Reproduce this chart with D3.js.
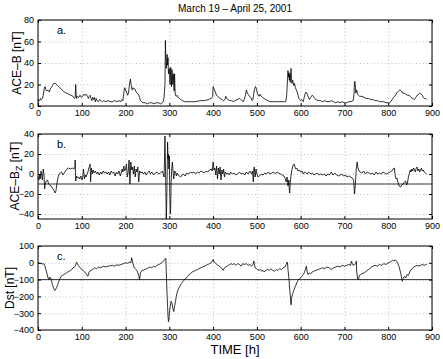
<!DOCTYPE html>
<html>
<head>
<meta charset="utf-8">
<script src="https://cdn.jsdelivr.net/npm/d3@7"></script>
<style>
  body { margin: 0; background: #fff; }
  svg text { font-family: "Liberation Sans", Arial, sans-serif; fill: #000; }
</style>
</head>
<body>
<script>
// time axis ticks (hours)
var timeTicks = [0, 100, 200, 300, 400, 500, 600, 700, 800, 900]

// panel a: ACE magnetic field magnitude [nT]
var aTime = [0,2,4,6,8,10,12,14,16,18,20,22,24,26,28,30,33,36,40,45,50,55,60,65,70,75,80,83,85,86,87,88,90,93,96,99,102,105,108,110,113,115,117,119,121,123,125,127,129,131,133,135,138,141,144,147,150,155,160,165,170,175,180,185,189,192,194,196,198,200,203,205,207,209,211,213,215,217,219,221,223,226,229,232,234,237,240,245,250,255,260,265,270,275,280,284,286,288,290,291,292,293,295,296,297,298,300,301,302,303,304,305,306,307,308,309,310,311,312,313,314,316,318,320,323,326,330,335,340,350,360,370,380,390,396,399,400,402,404,406,408,410,413,416,420,424,427,429,431,434,438,442,446,450,455,460,463,466,469,471,474,476,478,480,483,486,489,491,493,495,497,499,501,503,505,507,510,513,516,520,525,530,540,550,560,566,568,570,571,572,573,574,575,576,577,578,579,580,582,584,586,588,590,592,594,596,598,600,602,604,606,608,610,612,614,616,618,620,623,626,629,632,635,640,645,650,655,660,665,670,675,680,685,690,695,700,705,710,715,720,722,723,724,726,728,730,732,735,740,745,750,755,760,765,770,775,780,785,790,795,800,803,806,809,812,815,818,821,824,827,830,833,836,840,844,848,852,856,860,863,866,869,872,875,878,880,883,886,888]
var aValue = [4,6,5,7,6,7,10,16,18,15,14,15,14,13,16,17,19,21,21,19,17,15,13,12,11,10,9,7,8,20,12,7,9,8,10,8,9,11,10,11,9,7,9,10,7,5,8,6,8,4,7,5,4,6,5,4,5,4,5,4,4,5,4,5,4,6,5,12,17,15,12,10,13,20,25,19,15,17,16,16,14,12,11,8,5,4,3,3,2,3,3,2,3,3,2,3,4,8,20,61,45,35,48,38,45,30,35,22,20,36,30,18,34,28,20,30,22,14,30,14,10,9,10,8,7,6,5,4,4,4,4,5,5,6,7,9,18,16,14,12,10,9,8,7,6,5,6,9,7,6,5,5,4,5,6,7,6,5,4,6,10,15,12,11,9,8,5,6,12,16,18,16,12,10,9,11,9,8,7,6,5,4,4,4,4,4,10,25,33,27,31,24,30,22,28,35,26,21,24,19,21,17,15,13,10,7,6,5,6,5,4,8,11,13,12,10,8,6,8,10,9,7,6,5,5,4,5,4,4,5,4,3,4,3,4,3,3,4,4,5,12,22,23,12,15,11,10,9,9,8,7,7,6,6,5,5,4,4,4,3,3,3,4,6,8,9,11,13,14,15,14,12,12,11,10,10,8,7,6,8,10,11,12,11,10,8,7,7,6]

// panel b: ACE Bz [nT]
var bTime = [0,2,4,5,7,9,10,12,14,15,17,19,22,24,27,30,33,36,39,41,43,46,48,51,54,57,60,63,66,70,74,78,82,84,85,86,88,90,93,95,98,100,102,104,106,108,110,112,114,116,118,119,120,122,124,126,128,131,134,137,140,143,146,149,152,155,158,161,164,167,170,173,176,179,182,185,188,190,192,194,196,198,200,202,204,206,208,210,212,214,216,218,220,222,224,226,228,230,232,235,238,241,244,247,250,254,257,260,264,268,272,276,280,284,286,288,289,290,291,292,293,294,295,296,297,298,299,300,301,302,303,304,305,306,307,308,309,310,312,314,316,318,320,323,326,329,332,336,340,344,348,352,356,360,364,368,372,376,380,384,388,392,396,398,400,402,404,406,408,410,412,414,416,418,420,422,424,426,428,431,434,437,440,444,448,452,456,460,464,468,472,476,480,484,488,490,492,493,494,496,498,500,503,506,510,514,518,522,526,530,534,538,542,546,550,554,558,562,565,567,569,571,573,574,575,576,577,579,581,583,585,587,589,591,594,597,600,603,606,609,612,615,618,621,624,627,630,634,638,642,646,650,654,658,662,666,670,674,678,682,686,690,694,698,702,706,710,714,718,721,723,725,727,729,731,733,736,740,744,748,752,756,760,764,768,772,776,780,784,788,792,796,800,804,808,811,814,816,818,820,822,825,828,831,834,837,840,842,844,846,848,850,852,854,856,858,860,862,864,866,868,870,872,874,876,878,880,882,885,888]
var bValue = [-3,-6,-1,-5,3,-3,-6,5,-2,-15,-9,-7,-6,-10,-11,-12,-14,-16,-19,-17,-10,-3,0,1,2,-1,1,3,5,6,5,6,5,6,14,-7,-2,-4,-3,-5,-2,-6,-4,5,-5,-1,-3,0,2,6,8,10,-8,6,0,4,1,3,0,2,-1,2,0,3,1,2,0,2,-1,3,1,2,-2,2,0,3,-2,1,5,2,8,3,5,10,-3,2,14,-10,12,4,7,0,8,-3,5,2,7,-8,3,1,2,0,2,-1,1,3,0,2,-1,1,2,0,1,3,0,-3,15,38,10,-15,-45,-30,0,32,15,20,5,18,-20,-40,-35,-10,2,8,12,6,0,-5,3,2,-2,1,-1,-2,-3,-1,0,-2,1,0,2,1,2,0,2,1,3,2,1,3,2,4,5,3,12,4,6,-1,8,-5,6,0,7,-6,4,0,5,-3,2,0,1,-1,2,0,1,-1,0,2,0,1,-1,2,0,3,0,3,-8,5,7,-3,5,0,-3,-2,0,-1,1,0,2,0,1,2,0,2,1,0,-1,-2,-5,-8,-3,-12,-6,-16,-19,-10,-5,2,6,9,10,7,5,6,3,4,2,3,0,2,1,0,2,1,0,1,-1,0,1,-1,0,-1,0,-2,0,-1,2,-1,1,-1,-2,-1,0,-2,-1,-3,-2,-3,-4,-6,-20,-10,5,12,6,3,2,1,3,0,2,1,0,1,-1,2,0,1,0,2,1,0,1,2,3,5,6,-2,-5,-4,-8,-12,-13,-11,-10,-8,-7,-11,-9,-3,0,4,2,5,3,6,4,2,6,7,3,5,2,4,6,3,4,2,1,0]

// panel c: Dst index [nT]
var cTime = [0,3,6,9,11,13,15,17,19,21,23,25,27,29,31,33,35,37,39,41,43,45,47,49,51,53,56,59,62,65,68,71,74,77,80,83,85,87,88,90,92,95,98,101,104,107,110,112,114,116,118,121,124,127,130,134,138,142,146,150,155,160,165,170,175,180,185,190,195,200,205,210,212,214,216,218,220,222,224,226,228,230,232,234,236,240,244,248,252,256,260,264,268,272,276,280,283,286,289,291,292,293,294,295,296,297,298,299,300,302,304,306,308,310,312,314,316,318,321,324,327,330,333,336,339,342,345,348,352,356,360,364,368,372,376,380,384,388,392,396,400,402,405,408,411,414,417,420,423,426,429,432,435,438,441,444,448,452,456,460,464,468,472,476,480,484,488,491,493,494,496,499,502,505,508,511,514,517,520,524,528,532,536,540,544,548,552,556,560,564,567,569,570,571,573,575,577,578,579,581,583,585,588,591,594,597,600,603,606,609,612,613,615,617,620,623,626,630,635,640,645,650,655,660,665,670,675,680,685,690,695,700,705,710,714,716,718,720,723,726,727,728,730,732,734,737,740,745,750,755,760,765,770,775,780,785,790,795,800,805,810,813,816,819,822,825,828,830,832,834,837,840,843,846,849,852,855,858,862,866,870,874,878,882,885,888]
var cValue = [0,-2,-5,-3,-8,-5,-15,-30,-50,-70,-90,-100,-85,-90,-110,-130,-145,-160,-165,-155,-145,-130,-115,-100,-90,-80,-75,-70,-65,-60,-55,-50,-45,-40,-30,-25,-20,-5,5,-5,-15,-25,-35,-40,-50,-55,-65,-75,-80,-60,-50,-45,-40,-35,-30,-35,-25,-30,-25,-20,-25,-20,-18,-15,-20,-12,-15,-10,-5,0,-3,5,0,30,5,-15,-30,-35,-40,-45,-60,-75,-100,-60,-50,-45,-40,-35,-30,-25,-30,-20,-25,-15,-10,-5,0,10,15,25,28,-50,-130,-200,-260,-320,-350,-340,-300,-260,-230,-240,-270,-290,-260,-230,-200,-175,-155,-140,-125,-115,-105,-95,-90,-80,-70,-65,-55,-50,-45,-40,-35,-30,-25,-20,-15,-10,-5,0,20,5,0,-10,-15,-20,-25,-35,-45,-30,-25,-20,-15,-10,-5,-10,-5,-15,-5,-10,-20,-5,-10,-5,-15,-10,-20,-10,10,-5,-30,-35,-40,-45,-40,-50,-45,-55,-45,-40,-45,-35,-45,-50,-40,-45,-35,-40,-30,-25,-10,5,0,-40,-90,-160,-220,-250,-210,-190,-175,-160,-140,-120,-105,-95,-90,-80,-70,-55,-30,-20,-55,-70,-60,-65,-55,-50,-45,-40,-35,-30,-35,-25,-30,-40,-30,-25,-20,-25,-15,-20,-15,-10,-15,10,-5,-15,-10,-5,10,-50,-95,-100,-75,-70,-65,-60,-50,-40,-30,-20,-15,-20,-10,-15,-5,-10,0,5,15,10,18,10,-5,-25,-55,-80,-110,-95,-80,-90,-70,-75,-55,-40,-35,-25,-20,-15,-20,-15,-10,-15,-12,-10]

// tick labels per panel
var aTicks = [0, 20, 40, 60, 80]
var bTicks = [-40, -20, 0, 20, 40]
var cTicks = [-400, -300, -200, -100, 0, 100]

var width = 443
var height = 359
var left = 38
var right = 432

var svg = d3.select("body")
    .append("svg")
    .attr("width", width)
    .attr("height", height)

var xScale = d3.scaleLinear()
    .domain([0, 900])
    .range([left, right])

// format numbers with a real minus sign like the original
function fmt(d) {
    return d < 0 ? "\u2212" + Math.abs(d) : String(d)
}

function drawPanel(times, values, yDomain, yTicks, top, bottom, letter, refLine) {
    var yScale = d3.scaleLinear()
        .domain(yDomain)
        .range([bottom, top])

    var g = svg.append("g")

    //dotted grid
    g.append("g")
        .attr("transform", "translate(0," + bottom + ")")
        .call(d3.axisBottom(xScale).tickValues(timeTicks).tickSize(-(bottom - top)).tickFormat(""))
        .call(s => s.select(".domain").remove())
        .selectAll("line")
        .attr("stroke", "#9a9a9a")
        .attr("stroke-width", 0.6)
        .attr("stroke-dasharray", "1,2.5")
    g.append("g")
        .attr("transform", "translate(" + left + ",0)")
        .call(d3.axisLeft(yScale).tickValues(yTicks).tickSize(-(right - left)).tickFormat(""))
        .call(s => s.select(".domain").remove())
        .selectAll("line")
        .attr("stroke", "#9a9a9a")
        .attr("stroke-width", 0.6)
        .attr("stroke-dasharray", "1,2.5")

    //reference line
    if (refLine !== undefined) {
        g.append("line")
            .attr("x1", left)
            .attr("x2", right)
            .attr("y1", yScale(refLine))
            .attr("y2", yScale(refLine))
            .attr("stroke", "#333")
            .attr("stroke-width", 1)
    }

    //data line
    var line = d3.line()
        .x((d, i) => xScale(times[i]))
        .y(d => yScale(d))
    g.append("path")
        .datum(values)
        .attr("d", line)
        .attr("fill", "none")
        .attr("stroke", "#000")
        .attr("stroke-width", 0.8)

    //axes with inward ticks (matlab style)
    g.append("g")
        .attr("transform", "translate(0," + bottom + ")")
        .call(d3.axisBottom(xScale).tickValues(timeTicks).tickSizeInner(-3).tickSizeOuter(0).tickPadding(4))
    g.append("g")
        .attr("transform", "translate(" + left + ",0)")
        .call(d3.axisLeft(yScale).tickValues(yTicks).tickSizeInner(-3).tickSizeOuter(0).tickPadding(4).tickFormat(fmt))
    g.append("g")
        .attr("transform", "translate(0," + top + ")")
        .call(d3.axisTop(xScale).tickValues(timeTicks).tickSizeInner(-3).tickSizeOuter(0).tickFormat(""))
    g.append("g")
        .attr("transform", "translate(" + right + ",0)")
        .call(d3.axisRight(yScale).tickValues(yTicks).tickSizeInner(-3).tickSizeOuter(0).tickFormat(""))
    g.selectAll(".domain").remove()
    g.selectAll(".tick text")
        .attr("font-size", 9)
        .attr("font-family", "Liberation Sans, Arial, sans-serif")
        .attr("fill", "#000")

    //box
    g.append("rect")
        .attr("x", left)
        .attr("y", top)
        .attr("width", right - left)
        .attr("height", bottom - top)
        .attr("fill", "none")
        .attr("stroke", "#000")
        .attr("stroke-width", 1)

    //panel letter
    g.append("text")
        .attr("x", left + 19)
        .attr("y", top + 14)
        .attr("font-size", 11)
        .text(letter)

    return g
}

drawPanel(aTime, aValue, [0, 80], aTicks, 20, 106, "a.")
drawPanel(bTime, bValue, [-45, 40], bTicks, 134, 219, "b.", -10)
drawPanel(cTime, cValue, [-400, 100], cTicks, 246, 330, "c.", -100)

//title
svg.append("text")
    .attr("x", 235)
    .attr("y", 12)
    .attr("text-anchor", "middle")
    .attr("font-size", 10)
    .text("March 19 \u2013 April 25, 2001")

//y labels
svg.append("text")
    .attr("transform", "translate(21,63) rotate(-90)")
    .attr("text-anchor", "middle")
    .attr("font-size", 12)
    .text("ACE\u2013B [nT]")

var bLabel = svg.append("text")
    .attr("transform", "translate(19,176) rotate(-90)")
    .attr("text-anchor", "middle")
    .attr("font-size", 12)
bLabel.append("tspan").text("ACE\u2013B")
bLabel.append("tspan").attr("font-size", 9).attr("dy", 3).text("Z")
bLabel.append("tspan").attr("dy", -3).text(" [nT]")

svg.append("text")
    .attr("transform", "translate(14,288) rotate(-90)")
    .attr("text-anchor", "middle")
    .attr("font-size", 12)
    .text("Dst [nT]")

//x label
svg.append("text")
    .attr("x", 235)
    .attr("y", 354)
    .attr("text-anchor", "middle")
    .attr("font-size", 13)
    .text("TIME [h]")
</script>
</body>
</html>
